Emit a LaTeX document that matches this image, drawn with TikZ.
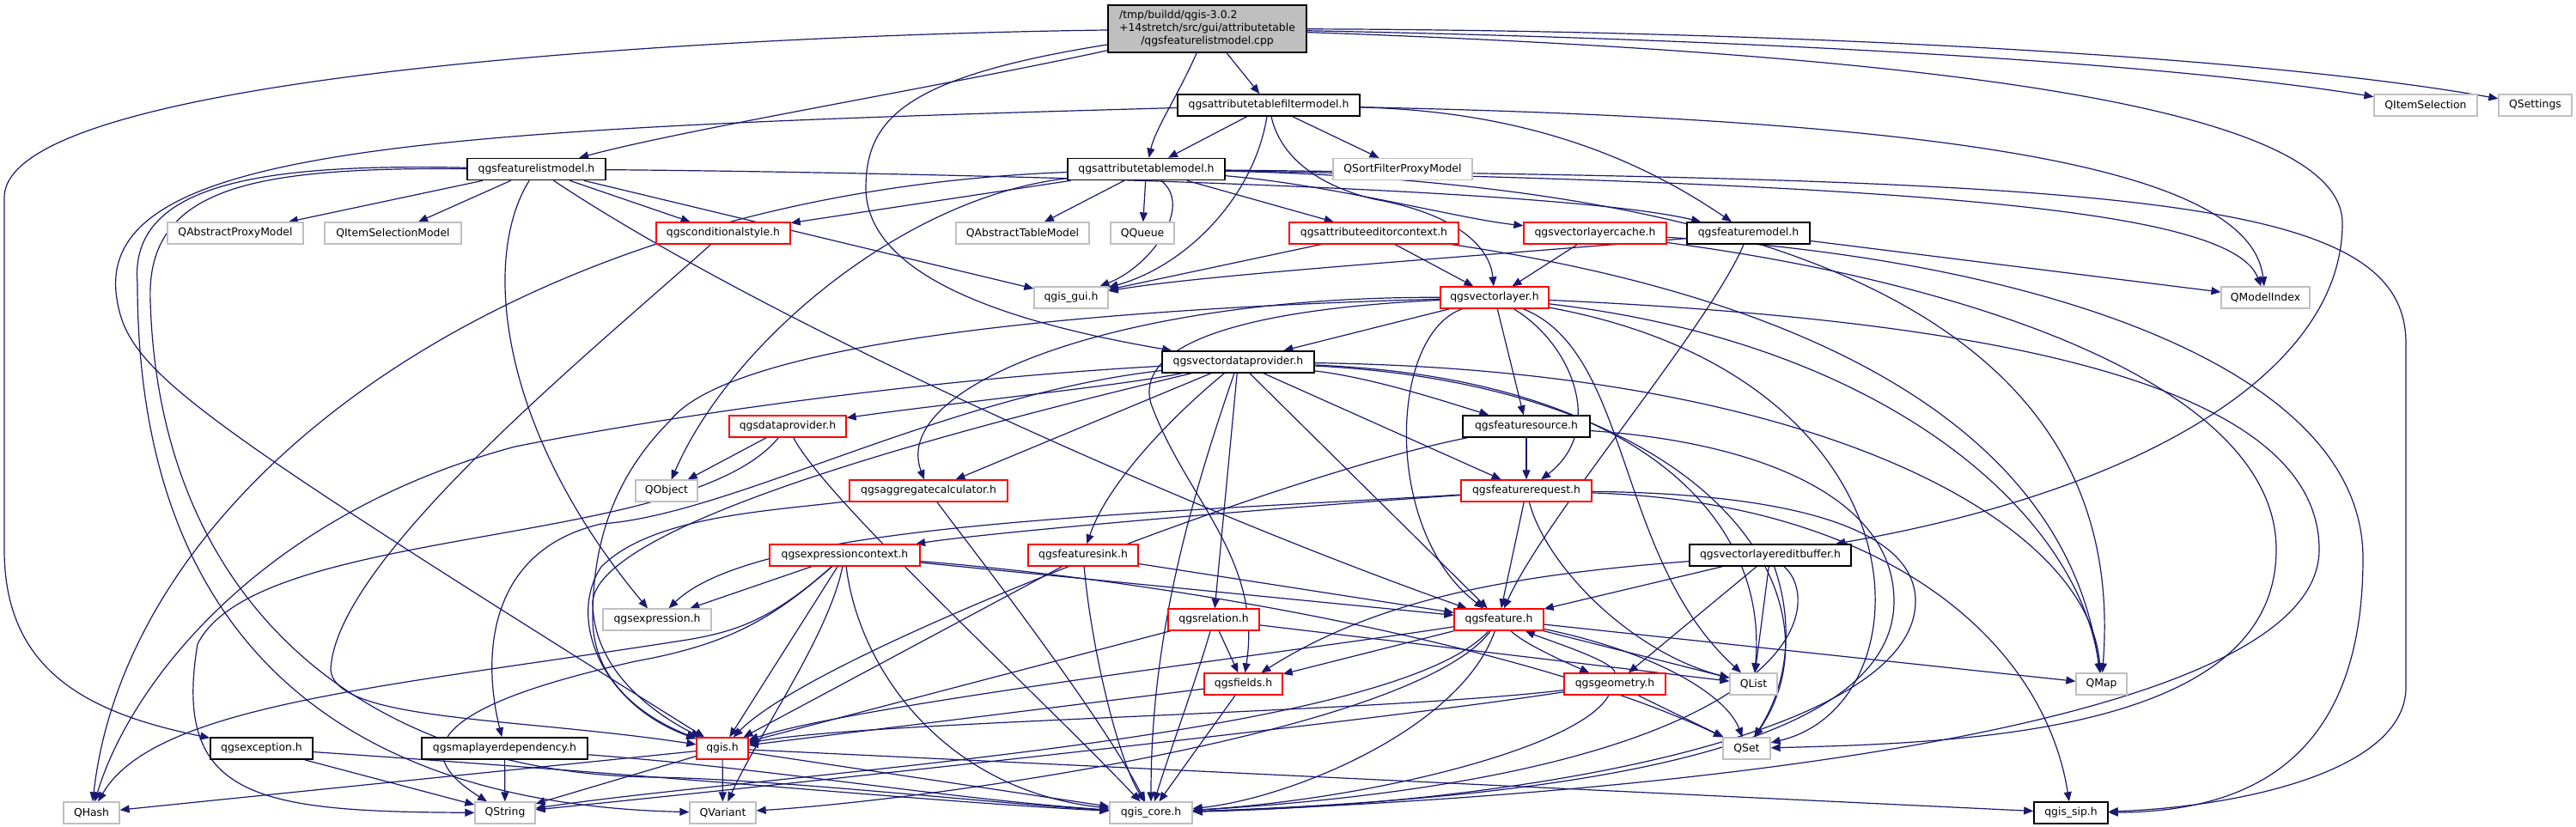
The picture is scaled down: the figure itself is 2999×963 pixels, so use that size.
\documentclass[tikz,border=0pt]{standalone}
\usepackage{fontspec}
\setmainfont{DejaVu Sans}
\usetikzlibrary{arrows.meta}
\definecolor{edgec}{RGB}{25,25,112}
\definecolor{boxgray}{RGB}{191,191,191}
\definecolor{boxred}{RGB}{255,0,0}
\newcommand{\fsz}{\fontsize{12.4}{14.7}\selectfont}
\pgfdeclarelayer{edgelayer}
\pgfsetlayers{edgelayer,main}
\tikzset{
  box/.style={rectangle, fill=white, inner sep=0pt, minimum height=25pt, font=\fsz, text=black},
  nb/.style={box, draw=black, line width=1.6pt},
  nr/.style={box, draw=boxred, line width=1.3pt},
  ng/.style={box, draw=boxgray, line width=1.3pt},
  nroot/.style={box, draw=black, line width=1.6pt, fill=boxgray},
  dep/.style={draw=edgec, line width=1.2pt, -{Triangle[length=11pt,width=9pt]}}
}
\begin{document}
\begin{tikzpicture}[x=1pt,y=-1pt]
\useasboundingbox (0,0) rectangle (2999,963);
% ---------------- nodes ----------------
\node[nroot, minimum width=231pt, minimum height=55pt] (R) at (1405.5,33.5) {\begin{tabular}{@{}l@{}}/tmp/buildd/qgis-3.0.2\\+14stretch/src/gui/attributetable\\\multicolumn{1}{@{}c@{}}{/qgsfeaturelistmodel.cpp}\end{tabular}};
\node[nb, minimum width=212pt] (FM) at (1477,122.5) {qgsattributetablefiltermodel.h};
\node[ng, minimum width=120pt] (QIS) at (2824,122.5) {QItemSelection};
\node[ng, minimum width=85pt] (QSettings) at (2951.5,122.5) {QSettings};
\node[nb, minimum width=161pt] (flm) at (624.5,197) {qgsfeaturelistmodel.h};
\node[nb, minimum width=183pt] (atm) at (1334.5,197) {qgsattributetablemodel.h};
\node[ng, minimum width=162pt] (QSFPM) at (1633,197) {QSortFilterProxyModel};
\node[ng, minimum width=158pt] (QAPM) at (274,271.5) {QAbstractProxyModel};
\node[ng, minimum width=159pt] (QISM) at (457.5,271.5) {QItemSelectionModel};
\node[nr, minimum width=156pt] (cond) at (842,271.5) {qgsconditionalstyle.h};
\node[ng, minimum width=155pt] (QATM) at (1190.5,271.5) {QAbstractTableModel};
\node[ng, minimum width=74pt] (QQueue) at (1330,271.5) {QQueue};
\node[nr, minimum width=197pt] (AEC) at (1599.5,271.5) {qgsattributeeditorcontext.h};
\node[nr, minimum width=166pt] (vlcache) at (1857,271.5) {qgsvectorlayercache.h};
\node[nb, minimum width=143pt] (fmodel) at (2035.5,271.5) {qgsfeaturemodel.h};
\node[ng, minimum width=86pt] (gui) at (1247,346.5) {qgis\_gui.h};
\node[nr, minimum width=126pt] (vlayer) at (1740,346.5) {qgsvectorlayer.h};
\node[ng, minimum width=103pt] (QMI) at (2637.5,346.5) {QModelIndex};
\node[nb, minimum width=177pt] (vdp) at (1441.5,421.5) {qgsvectordataprovider.h};
\node[nr, minimum width=136pt] (dp) at (917,496.5) {qgsdataprovider.h};
\node[nb, minimum width=148pt] (fsource) at (1777,496.5) {qgsfeaturesource.h};
\node[ng, minimum width=72pt] (QObj) at (776,571.5) {QObject};
\node[nr, minimum width=184pt] (aggcalc) at (1081,571.5) {qgsaggregatecalculator.h};
\node[nr, minimum width=152pt] (freq) at (1777,571.5) {qgsfeaturerequest.h};
\node[nr, minimum width=175pt] (exprctx) at (983.5,646.5) {qgsexpressioncontext.h};
\node[nr, minimum width=128pt] (fsink) at (1261,646.5) {qgsfeaturesink.h};
\node[nb, minimum width=188pt] (editbuf) at (2061,646.5) {qgsvectorlayereditbuffer.h};
\node[ng, minimum width=126pt] (qexpr) at (765,721.5) {qgsexpression.h};
\node[nr, minimum width=106pt] (relation) at (1413,721.5) {qgsrelation.h};
\node[nr, minimum width=104pt] (feature) at (1745,721.5) {qgsfeature.h};
\node[nr, minimum width=91pt] (fields) at (1447.5,796.5) {qgsfields.h};
\node[nr, minimum width=118pt] (geometry) at (1880,796.5) {qgsgeometry.h};
\node[ng, minimum width=55pt] (QList) at (2041.5,796.5) {QList};
\node[ng, minimum width=59pt] (QMap) at (2446.5,796.5) {QMap};
\node[nb, minimum width=119pt] (exc) at (304.5,871.5) {qgsexception.h};
\node[nb, minimum width=193pt] (mld) at (587.5,871.5) {qgsmaplayerdependency.h};
\node[nr, minimum width=60pt] (qgish) at (841,871.5) {qgis.h};
\node[ng, minimum width=55pt] (QSetn) at (2033.5,871.5) {QSet};
\node[ng, minimum width=65pt] (QHash) at (106.5,946.5) {QHash};
\node[ng, minimum width=70pt] (QString) at (588,946.5) {QString};
\node[ng, minimum width=77pt] (QVar) at (841.5,946.5) {QVariant};
\node[ng, minimum width=96pt] (core) at (1340,946.5) {qgis\_core.h};
\node[nb, minimum width=86pt] (sip) at (2411,946.5) {qgis\_sip.h};
% ---------------- edges ----------------
\begin{pgfonlayer}{edgelayer}
\fill[white] (0,0) rectangle (2999,963);
% root
\draw[dep] (R) .. controls (1100,100) and (800,150) .. (flm);
\draw[dep] (R) .. controls (1372,110) and (1345,150) .. (atm);
\draw[dep] (R) -- (FM);
\draw[dep] (R) .. controls (1050,90) and (1008,140) .. (1008,220) .. controls (1010,330) and (1200,380) .. (vdp);
\draw[dep] (R) .. controls (900,40) and (5,80) .. (5,230) -- (5,640) .. controls (5,780) and (100,830) .. (exc);
\draw[dep] (R) .. controls (2000,45) and (2500,70) .. (QIS);
\draw[dep] (R) .. controls (2000,35) and (2600,60) .. (QSettings);
\draw[dep] (R) .. controls (2300,65) and (2727,130) .. (2727,260) .. controls (2727,430) and (2500,570) .. (editbuf);
% filter model
\draw[dep] (FM) -- (atm);
\draw[dep] (FM) -- (QSFPM);
\draw[dep] (FM) .. controls (1460,230) and (1380,310) .. (gui);
\draw[dep] (FM) .. controls (1490,180) and (1530,215) .. (1600,232) .. controls (1700,250) and (1735,290) .. (vlayer);
\draw[dep] (FM) .. controls (2300,140) and (2620,200) .. (QMI);
\draw[dep] (FM) .. controls (1800,130) and (1930,200) .. (fmodel);
\draw[dep] (FM) .. controls (500,150) and (120,170) .. (135,340) .. controls (145,430) and (200,470) .. (qgish);
% feature list model
\draw[dep] (flm) -- (QAPM);
\draw[dep] (flm) -- (QISM);
\draw[dep] (flm) -- (cond);
\draw[dep] (flm) -- (gui);
\draw[dep] (flm) .. controls (1000,200) and (1800,215) .. (fmodel);
\draw[dep] (flm) .. controls (900,380) and (1400,600) .. (feature);
\draw[dep] (flm) .. controls (560,300) and (580,500) .. (qexpr);
\draw[dep] (flm) .. controls (300,190) and (150,215) .. (160,330) .. controls (160,700) and (350,935) .. (QVar);
\draw[dep] (flm) .. controls (300,195) and (170,215) .. (175,350) .. controls (185,700) and (420,900) .. (760,905) .. controls (900,907) and (1150,935) .. (core);
% attribute table model
\draw[dep] (atm) -- (cond);
\draw[dep] (atm) -- (QATM);
\draw[dep] (atm) -- (QQueue);
\draw[dep] (atm) .. controls (1390,240) and (1340,310) .. (gui);
\draw[dep] (atm) -- (AEC);
\draw[dep] (atm) .. controls (1550,215) and (1700,255) .. (vlcache);
\draw[dep] (atm) .. controls (2300,215) and (2600,250) .. (QMI);
\draw[dep] (atm) .. controls (1050,230) and (850,400) .. (QObj);
\draw[dep] (atm) .. controls (600,225) and (150,560) .. (QHash);
\draw[dep] (atm) .. controls (2300,220) and (2470,500) .. (QMap);
\draw[dep] (atm) .. controls (2500,210) and (2801,230) .. (2801,400) -- (2801,800) .. controls (2801,900) and (2600,940) .. (sip);
% conditional style
\draw[dep] (cond) .. controls (700,400) and (390,650) .. (385,780) .. controls (390,840) and (600,835) .. (qgish);
% attribute editor context
\draw[dep] (AEC) -- (vlayer);
\draw[dep] (AEC) -- (gui);
\draw[dep] (AEC) .. controls (2000,330) and (2400,450) .. (QMap);
% vector layer cache
\draw[dep] (vlcache) -- (vlayer);
\draw[dep] (vlcache) .. controls (2300,330) and (2650,450) .. (2650,640) .. controls (2650,850) and (2300,865) .. (QSetn);
\draw[dep] (vlcache) .. controls (2350,300) and (2751,420) .. (2751,650) .. controls (2751,900) and (2600,945) .. (sip);
% feature model
\draw[dep] (fmodel) .. controls (1700,300) and (1400,320) .. (gui);
\draw[dep] (fmodel) -- (QMI);
\draw[dep] (fmodel) .. controls (1990,380) and (1800,600) .. (feature);
% vector layer
\draw[dep] (vlayer) -- (vdp);
\draw[dep] (vlayer) -- (fsource);
\draw[dep] (vlayer) .. controls (1830,400) and (1870,500) .. (freq);
\draw[dep] (vlayer) .. controls (1616,390) and (1610,620) .. (feature);
\draw[dep] (vlayer) .. controls (1900,410) and (1880,650) .. (QList);
\draw[dep] (vlayer) .. controls (2200,400) and (2420,600) .. (QMap);
\draw[dep] (vlayer) .. controls (2250,440) and (2250,820) .. (QSetn);
\draw[dep] (vlayer) .. controls (2250,370) and (2700,430) .. (2700,640) .. controls (2700,880) and (1700,935) .. (core);
\draw[dep] (vlayer) .. controls (1300,345) and (1035,450) .. (aggcalc);
\draw[dep] (vlayer) .. controls (1450,360) and (1320,400) .. (1340,470) .. controls (1380,580) and (1470,650) .. (fields);
\draw[dep] (vlayer) .. controls (1250,360) and (850,400) .. (780,490) .. controls (710,560) and (690,640) .. (690,720) .. controls (690,800) and (760,840) .. (qgish);
% vector data provider
\draw[dep] (vdp) .. controls (1300,450) and (1100,470) .. (dp);
\draw[dep] (vdp) -- (aggcalc);
\draw[dep] (vdp) .. controls (1370,480) and (1290,560) .. (fsink);
\draw[dep] (vdp) -- (relation);
\draw[dep] (vdp) .. controls (1380,600) and (1340,750) .. (core);
\draw[dep] (vdp) -- (feature);
\draw[dep] (vdp) .. controls (1600,440) and (1690,470) .. (fsource);
\draw[dep] (vdp) -- (freq);
\draw[dep] (vdp) .. controls (1900,440) and (2060,600) .. (QList);
\draw[dep] (vdp) .. controls (2100,430) and (2430,600) .. (QMap);
\draw[dep] (vdp) .. controls (2000,450) and (2150,700) .. (QSetn);
\draw[dep] (vdp) .. controls (1100,440) and (800,480) .. (600,520) .. controls (300,600) and (150,800) .. (QHash);
\draw[dep] (vdp) .. controls (1200,480) and (700,600) .. (690,700) .. controls (690,780) and (760,830) .. (qgish);
\draw[dep] (vdp) .. controls (1100,460) and (850,600) .. (700,610) .. controls (570,640) and (560,760) .. (mld);
% data provider
\draw[dep] (dp) -- (QObj);
\draw[dep] (dp) .. controls (800,640) and (300,610) .. (230,750) .. controls (200,930) and (300,945) .. (QString);
\draw[dep] (dp) .. controls (960,580) and (1200,800) .. (core);
% feature source
\draw[dep] (fsource) -- (freq);
\draw[dep] (fsource) .. controls (2050,515) and (2205,580) .. (2205,700) .. controls (2205,880) and (1800,930) .. (core);
\draw[dep] (fsource) .. controls (1500,550) and (950,760) .. (qgish);
% aggregate calculator
\draw[dep] (aggcalc) .. controls (1140,650) and (1280,830) .. (core);
\draw[dep] (aggcalc) .. controls (900,595) and (760,600) .. (700,660) .. controls (660,720) and (700,820) .. (qgish);
% feature request
\draw[dep] (freq) -- (feature);
\draw[dep] (freq) .. controls (1500,590) and (1150,620) .. (exprctx);
\draw[dep] (freq) .. controls (1300,600) and (880,610) .. (qexpr);
\draw[dep] (freq) .. controls (1800,660) and (1900,760) .. (QList);
\draw[dep] (freq) .. controls (2100,575) and (2230,620) .. (2230,700) .. controls (2230,850) and (1800,935) .. (core);
\draw[dep] (freq) .. controls (2200,585) and (2380,750) .. (sip);
% expression context
\draw[dep] (exprctx) -- (qexpr);
\draw[dep] (exprctx) -- (qgish);
\draw[dep] (exprctx) .. controls (965,740) and (880,860) .. (QVar);
\draw[dep] (exprctx) .. controls (1000,780) and (1100,920) .. (core);
\draw[dep] (exprctx) .. controls (900,720) and (850,750) .. (740,770) .. controls (560,810) and (450,860) .. (QString);
\draw[dep] (exprctx) .. controls (900,720) and (860,735) .. (800,745) .. controls (450,800) and (180,820) .. (QHash);
\draw[dep] (exprctx) -- (feature);
\draw[dep] (exprctx) .. controls (1400,680) and (1800,760) .. (QSetn);
% feature sink
\draw[dep] (fsink) -- (feature);
\draw[dep] (fsink) -- (qgish);
\draw[dep] (fsink) .. controls (1270,750) and (1300,880) .. (core);
% edit buffer
\draw[dep] (editbuf) .. controls (1750,670) and (1600,700) .. (fields);
\draw[dep] (editbuf) -- (feature);
\draw[dep] (editbuf) -- (geometry);
\draw[dep] (editbuf) -- (QList);
\draw[dep] (editbuf) .. controls (2090,730) and (2080,800) .. (QSetn);
\draw[dep] (editbuf) .. controls (2125,700) and (2110,900) .. (core);
% relation
\draw[dep] (relation) -- (fields);
\draw[dep] (relation) -- (qgish);
\draw[dep] (relation) .. controls (1390,800) and (1360,880) .. (core);
\draw[dep] (relation) -- (QList);
% feature
\draw[dep] (feature) -- (fields);
\draw[dep] (feature) .. controls (1775,750) and (1820,770) .. (geometry);
\draw[dep] (feature) -- (QList);
\draw[dep] (feature) .. controls (1930,760) and (2010,810) .. (QSetn);
\draw[dep] (feature) -- (QMap);
\draw[dep] (feature) .. controls (1500,760) and (1000,820) .. (qgish);
\draw[dep] (feature) .. controls (1620,860) and (900,900) .. (QString);
\draw[dep] (feature) .. controls (1650,850) and (1100,930) .. (QVar);
\draw[dep] (feature) .. controls (1700,850) and (1500,930) .. (core);
% geometry
\draw[dep] (geometry) .. controls (1880,770) and (1800,745) .. (feature);
\draw[dep] (geometry) -- (QSetn);
\draw[dep] (geometry) .. controls (1840,870) and (1600,930) .. (core);
\draw[dep] (geometry) .. controls (1600,830) and (1000,840) .. (qgish);
\draw[dep] (geometry) .. controls (1600,840) and (900,915) .. (QString);
% fields
\draw[dep] (fields) -- (qgish);
\draw[dep] (fields) -- (core);
% exception, map layer dependency
\draw[dep] (exc) -- (QString);
\draw[dep] (exc) .. controls (800,905) and (1100,935) .. (core);
\draw[dep] (mld) -- (QString);
\draw[dep] (mld) .. controls (900,895) and (1100,930) .. (core);
% qgis.h
\draw[dep] (qgish) -- (QHash);
\draw[dep] (qgish) -- (QString);
\draw[dep] (qgish) -- (QVar);
\draw[dep] (qgish) -- (core);
\draw[dep] (qgish) -- (sip);
\end{pgfonlayer}
\end{tikzpicture}
\end{document}
